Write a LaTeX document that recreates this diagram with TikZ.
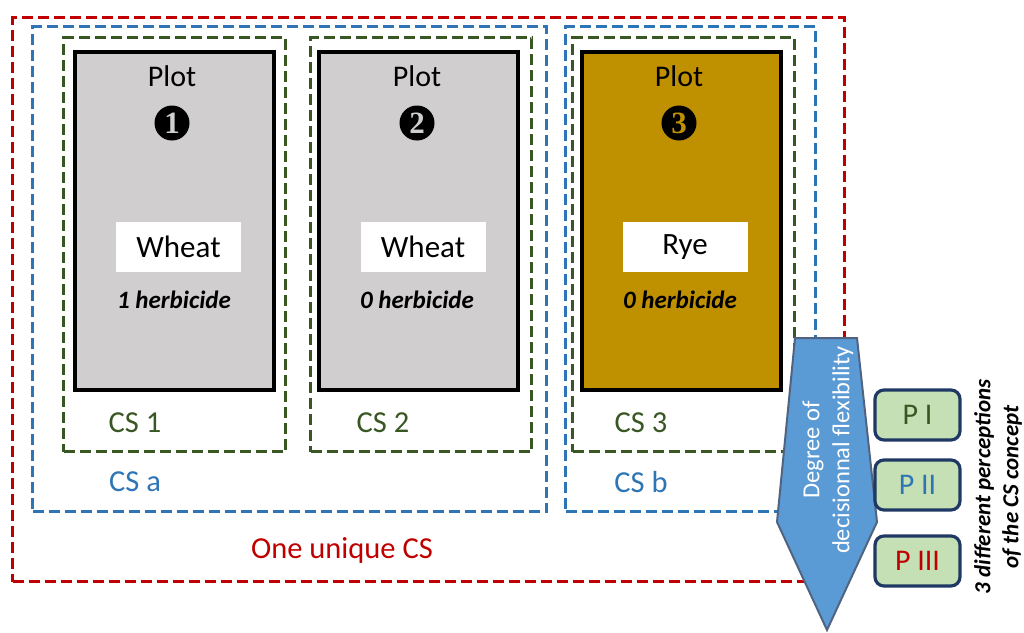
\documentclass[tikz,border=0pt]{standalone}
\usepackage{fontspec}
\setmainfont{Carlito}
\newfontfamily\numfont{Liberation Serif}
\definecolor{csred}{RGB}{192,0,0}
\definecolor{csblue}{RGB}{46,117,182}
\definecolor{csgreen}{RGB}{56,87,35}
\definecolor{plotgray}{RGB}{208,206,206}
\definecolor{plotgold}{RGB}{191,144,0}
\definecolor{arrowblue}{RGB}{91,155,213}
\definecolor{arrowedge}{RGB}{80,99,128}
\definecolor{pfill}{RGB}{197,224,180}
\definecolor{pedge}{RGB}{31,56,100}
\tikzset{
  dashbox/.style={draw=#1, line width=3.4pt, dash pattern=on 11pt off 5pt, inner sep=0pt, anchor=north west},
  plotbox/.style={draw=black, fill=#1, line width=4pt, inner sep=0pt, anchor=north west, minimum width=199pt, minimum height=338pt},
  cropbox/.style={fill=white, inner sep=0pt, minimum width=125pt, minimum height=50pt, font=\fontsize{31}{36}\selectfont},
  plottitle/.style={font=\fontsize{30}{34}\selectfont},
  herb/.style={font=\fontsize{25}{28}\selectfont\bfseries\itshape},
  cslabel/.style={text=#1, font=\fontsize{30.5}{36}\selectfont},
  numdisc/.style={circle, fill=black, minimum size=35pt, inner sep=0pt, text=#1, font=\numfont\fontsize{31}{32}\selectfont\bfseries},
  pbox/.style={draw=pedge, fill=pfill, line width=3.2pt, rounded corners=9pt, minimum width=85pt, minimum height=50pt, inner sep=0pt, text=#1, font=\fontsize{30}{36}\selectfont}
}
\begin{document}
\begin{tikzpicture}[x=1pt,y=-1pt]
\useasboundingbox (0,0) rectangle (1024,632);
% outer boxes
\node[dashbox=csred, minimum width=832pt, minimum height=564pt] (unique) at (11,16) {};
\node[dashbox=csblue, minimum width=514pt, minimum height=485pt] (csa) at (31,25) {};
\node[dashbox=csblue, minimum width=250pt, minimum height=485pt] (csb) at (564,25) {};
\node[dashbox=csgreen, minimum width=222pt, minimum height=414pt] (cs1) at (62,36) {};
\node[dashbox=csgreen, minimum width=221pt, minimum height=414pt] (cs2) at (309,36) {};
\node[dashbox=csgreen, minimum width=222pt, minimum height=414pt] (cs3) at (571,36) {};
% plots
\node[plotbox=plotgray] (plot1) at (73,50) {};
\node[plotbox=plotgray] (plot2) at (317,50) {};
\node[plotbox=plotgold] (plot3) at (580,50) {};
\node[plottitle] (t1) at (172,76) {Plot};
\node[plottitle] (t2) at (417,76) {Plot};
\node[plottitle] (t3) at (679,76) {Plot};
\node[numdisc=plotgray] (n1) at (172,123) {1};
\node[numdisc=plotgray] (n2) at (417,123) {2};
\node[numdisc=plotgold] (n3) at (679,123) {3};
\node[cropbox] (c1) at (178.5,247) {Wheat};
\node[cropbox] (c2) at (423,247) {Wheat};
\node[cropbox] (c3) at (685,247) {Rye};
\node[herb] (h1) at (174,300) {1 herbicide};
\node[herb] (h2) at (417,300) {0 herbicide};
\node[herb] (h3) at (680,300) {0 herbicide};
% labels
\node[cslabel=csgreen] (l1) at (135,423) {CS 1};
\node[cslabel=csgreen] (l2) at (383,423) {CS 2};
\node[cslabel=csgreen] (l3) at (641,423) {CS 3};
\node[cslabel=csblue] (la) at (135,482) {CS a};
\node[cslabel=csblue] (lb) at (641,482) {CS b};
\node[cslabel=csred] (lu) at (342,550) {One unique CS};
% arrow
\draw[fill=arrowblue, draw=arrowedge, line width=2pt, line join=miter]
  (795,338) -- (857,338) -- (877,522) -- (827,630) -- (777,522) -- cycle;
\node[rotate=90, text=white, align=center, font=\fontsize{24.5}{30}\selectfont] (deg) at (828,450) {Degree of\\decisionnal flexibility};
% perceptions
\node[pbox=csgreen] (p1) at (917.5,415) {P I};
\node[pbox=csblue] (p2) at (917.5,485) {P II};
\node[pbox=csred] (p3) at (917.5,561) {P III};
\node[rotate=90, align=center, inner sep=0pt, font=\fontsize{23}{28}\selectfont\bfseries\itshape] (persp) at (998,487) {3 different perceptions\\of the CS concept};
\end{tikzpicture}
\end{document}
